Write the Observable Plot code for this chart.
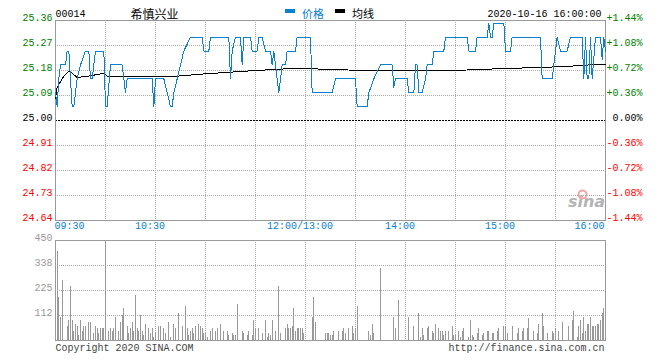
<!DOCTYPE html>
<html><head><meta charset="utf-8">
<script src="https://cdn.jsdelivr.net/npm/d3@7"></script>
<script src="https://cdn.jsdelivr.net/npm/@observablehq/plot@0.6"></script>
<style>
body{margin:0;background:#fff;}
#wrap{position:relative;width:660px;height:360px;overflow:hidden;background:#fff;}
#wrap svg{position:absolute;left:0;}
.sw{position:absolute;height:4px;width:10px;top:9px;}
</style></head><body><div id="wrap"></div>
<script>
// ---- data ----
const stockCode = "00014";
const stockName = "希慎兴业";
const dateTime = "2020-10-16 16:00:00";
const legendNames = ["价格", "均线"];
const prevClose = 25.00;
const priceTicks = [25.36, 25.27, 25.18, 25.09, 25.00, 24.91, 24.82, 24.73, 24.64];
const pctLabels = ["+1.44%", "+1.08%", "+0.72%", "+0.36%", "0.00%", "-0.36%", "-0.72%", "-1.08%", "-1.44%"];
const volTicks = [450, 337.5, 225, 112.5];
const volTickLabels = ["450", "338", "225", "112"];
const gridMinutes = [30, 60, 90, 120, 150, 180, 210, 240, 270, 300];
const timeTickMinutes = [0, 60, 150, 210, 270, 330];
const timeTickLabels = ["09:30", "10:30", "12:00/13:00", "14:00", "15:00", "16:00"];

// price line: minutes since 09:30 (trading clock) and price
const priceMin = [0,1,2,3,6,7,8,10,11,13,15,18,20,21,22,24,29,30,31,33,40,42,43,58,59,60,65,67,69,70,71,73,75,77,81,88,89,92,93,104,105,106,108,111,112,113,117,118,121,122,124,126,129,130,131,132,134,135,136,138,139,144,145,153,154,166,168,180,181,187,188,191,195,202,203,204,211,212,215,216,217,218,220,222,223,226,227,233,234,247,248,252,253,259,260,261,262,263,269,270,273,274,291,292,298,299,301,303,307,309,316,317,318,319,320,321,322,324,327,328,329,330];
const priceVal = [25.10,25.05,25.15,25.20,25.20,25.25,25.25,25.05,25.05,25.15,25.20,25.25,25.25,25.15,25.15,25.25,25.25,25.05,25.05,25.20,25.20,25.10,25.15,25.15,25.05,25.15,25.15,25.10,25.05,25.05,25.10,25.15,25.20,25.25,25.30,25.30,25.25,25.25,25.30,25.30,25.15,25.25,25.30,25.30,25.20,25.30,25.30,25.25,25.25,25.30,25.30,25.25,25.25,25.20,25.25,25.20,25.10,25.15,25.20,25.20,25.25,25.25,25.30,25.30,25.10,25.10,25.15,25.15,25.05,25.05,25.10,25.15,25.20,25.20,25.12,25.15,25.15,25.10,25.10,25.20,25.20,25.10,25.10,25.15,25.20,25.20,25.25,25.25,25.30,25.30,25.25,25.25,25.30,25.30,25.35,25.30,25.30,25.35,25.35,25.25,25.25,25.30,25.30,25.15,25.15,25.20,25.30,25.25,25.25,25.30,25.30,25.15,25.30,25.15,25.15,25.30,25.15,25.30,25.30,25.22,25.30,25.25];

// average price line
const avgMin = [0,1,3,5,8,10,13,20,29,31,58,70,90,105,120,145,155,168,187,240,255,265,285,300,310,320,330];
const avgVal = [25.08,25.12,25.14,25.16,25.178,25.17,25.155,25.16,25.17,25.16,25.16,25.158,25.168,25.174,25.18,25.188,25.186,25.183,25.18,25.18,25.184,25.186,25.19,25.193,25.196,25.20,25.202];

// volume per minute (minute, volume)
const volMin = [1,2,3,4,7,8,9,10,11,12,13,14,15,16,17,18,20,21,23,24,25,26,27,28,29,30,32,33,34,35,36,38,39,40,41,43,44,45,46,47,48,49,50,51,52,53,54,56,57,58,59,60,62,63,65,66,68,69,71,72,74,76,78,79,80,81,82,83,84,86,87,88,89,90,91,93,94,96,97,99,101,103,104,106,107,108,109,112,113,115,116,118,119,120,122,124,126,127,128,129,130,132,134,135,138,139,140,141,142,143,144,145,146,147,148,149,154,155,156,162,163,164,165,166,167,170,172,173,174,176,178,179,180,181,188,189,190,191,195,203,204,206,212,215,218,219,220,221,223,224,226,227,228,230,231,232,233,234,236,238,239,240,242,243,244,245,248,249,250,251,253,254,256,257,259,260,262,263,265,266,269,270,271,274,277,278,280,281,283,284,287,289,290,292,293,295,298,299,300,302,304,308,310,311,313,314,315,316,317,318,319,320,321,322,323,324,325,326,327,328,329,330];
const volVal = [400,195,105,270,63,90,243,90,40,72,63,22,90,40,63,63,81,81,31,63,54,31,54,54,54,470,40,54,40,54,104,40,81,112,145,63,31,54,81,40,202,54,40,112,40,22,72,54,31,54,13,31,63,63,54,31,81,13,72,54,121,63,153,54,22,40,54,31,63,72,63,54,31,31,13,40,54,40,54,72,40,40,22,31,22,22,162,40,31,22,40,22,90,54,54,31,90,13,31,22,90,40,243,31,54,72,54,54,63,144,40,54,54,54,54,31,104,193,81,31,31,31,22,22,40,40,40,54,31,54,63,31,54,153,40,22,72,31,324,104,54,180,104,63,121,13,54,22,54,63,40,31,72,54,40,40,22,40,40,63,22,22,40,13,40,54,13,90,22,13,31,54,22,31,40,40,31,31,40,54,63,63,31,63,31,54,40,54,54,99,40,31,72,121,63,31,40,31,54,40,81,63,90,130,13,63,90,31,104,40,72,72,104,63,63,63,72,72,90,121,144,284];

// ---- drawing ----
const BLUE = "#0a80d0", GREEN = "#008000", RED = "#ff0000", GRID = "#aaaaaa", BORDER = "#999999";
const MONO = "Liberation Mono";
const CJK = "Noto Sans CJK SC";
const prices = priceMin.map((m, i) => ({m, p: priceVal[i]}));
const avgs = avgMin.map((m, i) => ({m, p: avgVal[i]}));
const vols = volMin.map((m, i) => ({m, v: volVal[i]}));
const idx = d3.range(priceTicks.length);
const colorOf = v => v > prevClose ? GREEN : v < prevClose ? RED : "#000";

const chartTop = Plot.plot({
  width: 660, height: 236,
  marginLeft: 55, marginRight: 55, marginTop: 20, marginBottom: 16,
  x: {domain: [0, 330], axis: null},
  y: {domain: [24.64, 25.36], axis: null},
  color: {type: "identity"},
  style: {background: "transparent", fontFamily: MONO, fontSize: "10px", overflow: "visible"},
  marks: [
    Plot.ruleX(gridMinutes, {stroke: GRID, strokeDasharray: "1,1", shapeRendering: "crispEdges"}),
    Plot.ruleY(priceTicks.filter(v => v !== prevClose && v !== 25.36 && v !== 24.64), {stroke: GRID, strokeDasharray: "1,1", shapeRendering: "crispEdges"}),
    Plot.ruleY([prevClose], {stroke: "#000", strokeDasharray: "2,1", shapeRendering: "crispEdges"}),
    Plot.frame({stroke: BORDER, shapeRendering: "crispEdges"}),
    Plot.text(["sina"], {text: d => d, frameAnchor: "bottom-right", dx: -19, dy: -14, textAnchor: "middle", fill: "#b4b4b4", fontSize: 16, fontWeight: "bold", fontStyle: "italic", fontFamily: "DejaVu Sans"}),
    Plot.dot([0], {frameAnchor: "bottom-right", dx: -23, dy: -26, r: 4, stroke: "#f3a3a3", strokeWidth: 2, fill: "none"}),
    Plot.line(avgs, {x: "m", y: "p", stroke: "#000", strokeWidth: 1, shapeRendering: "crispEdges"}),
    Plot.line(prices, {x: "m", y: "p", stroke: BLUE, strokeWidth: 1, shapeRendering: "crispEdges"}),
    Plot.text(idx, {y: i => priceTicks[i], text: i => priceTicks[i].toFixed(2), fill: i => colorOf(priceTicks[i]), frameAnchor: "left", dx: -3, dy: -2.5, textAnchor: "end"}),
    Plot.text(idx, {y: i => priceTicks[i], text: i => pctLabels[i], fill: i => colorOf(priceTicks[i]), frameAnchor: "right", dx: 37, dy: -2.5, textAnchor: "end"}),
    Plot.text([0], {x: () => timeTickMinutes[0], text: () => timeTickLabels[0], frameAnchor: "bottom", dy: 8, dx: -1, textAnchor: "start", fill: BLUE}),
    Plot.text([1, 2, 3, 4], {x: i => timeTickMinutes[i], text: i => timeTickLabels[i], frameAnchor: "bottom", dy: 8, dx: -5.5, textAnchor: "middle", fill: BLUE}),
    Plot.text([5], {x: () => timeTickMinutes[5], text: () => timeTickLabels[5], frameAnchor: "bottom", dy: 8, dx: -1, textAnchor: "end", fill: BLUE}),
    Plot.text([stockCode], {text: d => d, frameAnchor: "top-left", dx: 0, dy: -11, textAnchor: "start", fill: "#000"}),
    Plot.text([stockName], {text: d => d, frameAnchor: "top-left", dx: 75, dy: -10.5, textAnchor: "start", fill: "#000", fontFamily: CJK, fontSize: 12}),
    Plot.text([legendNames[0]], {text: d => d, frameAnchor: "top-left", dx: 246.5, dy: -10, textAnchor: "start", fill: BLUE, fontFamily: CJK, fontSize: 11}),
    Plot.text([legendNames[1]], {text: d => d, frameAnchor: "top-left", dx: 296.5, dy: -10, textAnchor: "start", fill: "#000", fontFamily: CJK, fontSize: 11}),
    Plot.text([dateTime], {text: d => d, frameAnchor: "top-right", dx: -4, dy: -11, textAnchor: "end", fill: "#000"})
  ]
});
chartTop.style.top = "0px";

const chartBottom = Plot.plot({
  width: 660, height: 124,
  marginLeft: 55, marginRight: 55, marginTop: 4, marginBottom: 20,
  x: {domain: [0, 330], axis: null},
  y: {domain: [0, 450], axis: null, clamp: true},
  style: {background: "transparent", fontFamily: MONO, fontSize: "10px", overflow: "visible"},
  marks: [
    Plot.ruleX(gridMinutes, {stroke: GRID, strokeDasharray: "1,1", shapeRendering: "crispEdges"}),
    Plot.ruleY(volTicks.slice(1), {stroke: GRID, strokeDasharray: "1,1", shapeRendering: "crispEdges"}),
    Plot.frame({stroke: BORDER, shapeRendering: "crispEdges"}),
    Plot.ruleX(vols, {x: "m", y1: 0, y2: "v", stroke: "#999", shapeRendering: "crispEdges"}),
    Plot.text(d3.range(volTicks.length), {y: i => volTicks[i], text: i => volTickLabels[i], frameAnchor: "left", dx: -3, dy: -2.5, textAnchor: "end", fill: "#999"}),
    Plot.text(["Copyright 2020 SINA.COM"], {text: d => d, frameAnchor: "bottom-left", dy: 10, textAnchor: "start", fill: "#444"}),
    Plot.text(["http://finance.sina.com.cn"], {text: d => d, frameAnchor: "bottom-right", dx: -1, dy: 10, textAnchor: "end", fill: "#444"})
  ]
});
chartBottom.style.top = "236px";

const wrap = document.getElementById("wrap");
wrap.appendChild(chartTop);
wrap.appendChild(chartBottom);
const sw1 = document.createElement("div"); sw1.className = "sw"; sw1.style.left = "285px"; sw1.style.background = BLUE;
const sw2 = document.createElement("div"); sw2.className = "sw"; sw2.style.left = "335px"; sw2.style.background = "#000";
wrap.appendChild(sw1); wrap.appendChild(sw2);
</script></body></html>
